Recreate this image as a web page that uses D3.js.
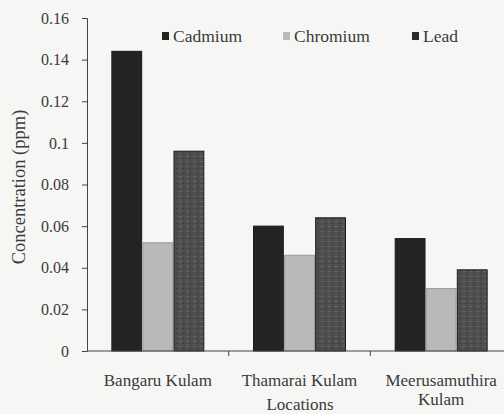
<!DOCTYPE html>
<html>
<head>
<meta charset="utf-8">
<script src="https://cdn.jsdelivr.net/npm/d3@7"></script>
<style>
  body { margin: 0; background: #f6f7f4; }
  svg { display: block; }
</style>
</head>
<body>
<div id="chart"></div>
<script>
// data
var locations = ["Bangaru Kulam", "Thamarai Kulam", "Meerusamuthira Kulam"];
var metals = ["Cadmium", "Chromium", "Lead"];
var cadmium = [0.144, 0.060, 0.054];
var chromium = [0.052, 0.046, 0.030];
var lead = [0.096, 0.064, 0.039];
var yTicks = [0, 0.02, 0.04, 0.06, 0.08, 0.1, 0.12, 0.14, 0.16];

var series = { Cadmium: cadmium, Chromium: chromium, Lead: lead };
var colors = { Cadmium: "#222322", Chromium: "#b9bab8", Lead: "#4d4e4c" };
var serif = "'Liberation Serif', 'Times New Roman', Times, 'DejaVu Serif', serif";

var width = 504, height = 414;
var margin = { top: 18, right: -8, bottom: 63, left: 87 };

var svg = d3.select('#chart').append('svg')
  .attr('width', width)
  .attr('height', height)
  .attr('font-family', serif);

var x0 = d3.scaleBand()
  .domain(locations)
  .range([margin.left, width - margin.right])
  .paddingInner(0)
  .paddingOuter(0);

var x1 = d3.scaleBand()
  .domain(metals)
  .range([0, x0.bandwidth()])
  .paddingOuter(0.8)
  .paddingInner(0.04);

var y = d3.scaleLinear()
  .domain([0, 0.16])
  .range([height - margin.bottom, margin.top]);

// rough texture for the lead bars
var defs = svg.append('defs');
var pat = defs.append('pattern')
  .attr('id', 'leadTex')
  .attr('patternUnits', 'userSpaceOnUse')
  .attr('width', 7).attr('height', 5);
pat.append('rect').attr('width', 7).attr('height', 5).attr('fill', colors.Lead);
pat.append('rect').attr('x', 1).attr('y', 1).attr('width', 3).attr('height', 1).attr('fill', '#676866');
pat.append('rect').attr('x', 5).attr('y', 3).attr('width', 1).attr('height', 1).attr('fill', '#333');
pat.append('rect').attr('x', 2).attr('y', 4).attr('width', 1).attr('height', 1).attr('fill', '#5e5f5d');

// bars
var groups = svg.append('g').selectAll('g')
  .data(locations)
  .enter().append('g')
  .attr('transform', function (d) { return 'translate(' + x0(d) + ',0)'; });

groups.selectAll('rect')
  .data(function (d, i) {
    return metals.map(function (m) { return { metal: m, value: series[m][i] }; });
  })
  .enter().append('rect')
  .attr('x', function (d) { return x1(d.metal); })
  .attr('width', x1.bandwidth())
  .attr('y', function (d) { return y(d.value); })
  .attr('height', function (d) { return y(0) - y(d.value); })
  .attr('fill', function (d) { return d.metal === 'Lead' ? 'url(#leadTex)' : colors[d.metal]; })
  .attr('stroke', function (d) { return d.metal === 'Chromium' ? '#9a9b99' : '#1a1a1a'; })
  .attr('stroke-width', 1);

// y axis
var yAxis = svg.append('g')
  .attr('transform', 'translate(' + margin.left + ',0)')
  .call(d3.axisLeft(y).tickValues(yTicks).tickSize(5).tickFormat(function (d) { return d === 0 ? '0' : String(d); }));
yAxis.attr('font-family', serif).attr('font-size', 16);
yAxis.select('.domain').attr('stroke', '#444');
yAxis.selectAll('.tick line').attr('stroke', '#444');
yAxis.selectAll('.tick text').attr('dx', -10).attr('fill', '#3a3a3a');

// x axis
var xAxis = svg.append('g')
  .attr('transform', 'translate(0,' + y(0) + ')');
xAxis.append('line')
  .attr('x1', margin.left).attr('x2', width)
  .attr('stroke', '#444');
xAxis.selectAll('line.tk')
  .data(locations.slice(1))
  .enter().append('line')
  .attr('class', 'tk')
  .attr('x1', function (d) { return x0(d); })
  .attr('x2', function (d) { return x0(d); })
  .attr('y1', 0).attr('y2', 5)
  .attr('stroke', '#444');

var labels = svg.append('g').selectAll('text')
  .data(locations)
  .enter().append('text')
  .attr('text-anchor', 'middle')
  .attr('font-size', 17)
  .attr('fill', '#3a3a3a')
  .attr('x', function (d) { return x0(d) + x0.bandwidth() / 2; })
  .attr('y', 386);
labels.each(function (d) {
  var t = d3.select(this);
  if (d === "Meerusamuthira Kulam") {
    t.append('tspan').attr('x', t.attr('x')).text('Meerusamuthira');
    t.append('tspan').attr('x', t.attr('x')).attr('dy', 19).text('Kulam');
  } else {
    t.text(d);
  }
});

// axis titles
svg.append('text')
  .attr('x', 300).attr('y', 410)
  .attr('text-anchor', 'middle')
  .attr('font-size', 17)
  .attr('fill', '#3a3a3a')
  .text('Locations');

svg.append('text')
  .attr('transform', 'translate(25,' + 187 + ') rotate(-90)')
  .attr('text-anchor', 'middle')
  .attr('font-size', 18.5)
  .attr('fill', '#3a3a3a')
  .text('Concentration (ppm)');

// legend
var legendX = [162, 283, 412];
var legend = svg.append('g').selectAll('g')
  .data(metals)
  .enter().append('g')
  .attr('transform', function (d, i) { return 'translate(' + legendX[i] + ',42)'; });
legend.append('rect')
  .attr('x', 0).attr('y', -10)
  .attr('width', 7).attr('height', 8)
  .attr('fill', function (d) { return d === 'Lead' ? '#2a2b2a' : colors[d]; });
legend.append('text')
  .attr('x', 11).attr('y', 0)
  .attr('font-size', 17.5)
  .attr('fill', '#3a3a3a')
  .text(function (d) { return d; });
</script>
</body>
</html>
